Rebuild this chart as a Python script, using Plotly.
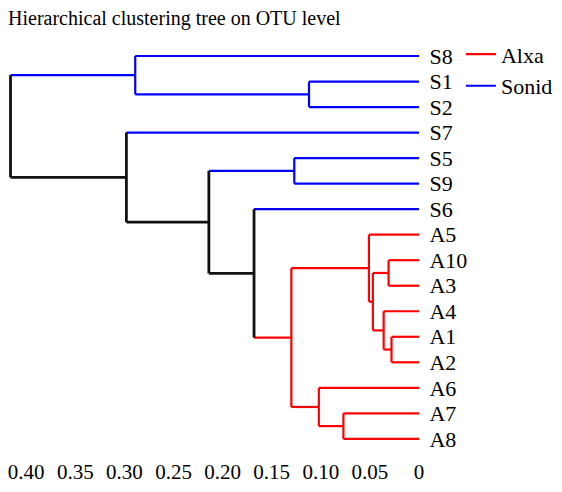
import plotly.graph_objects as go

# Leaves in display order (top to bottom) and their group
leaves = ["S8", "S1", "S2", "S7", "S5", "S9", "S6",
          "A5", "A10", "A3", "A4", "A1", "A2", "A6", "A7", "A8"]
leaf_group = ["Sonid"] * 7 + ["Alxa"] * 9

# Linkage: node ids 0..15 are leaves, 16.. are merges in this order
merge_left = [11, 8, 10, 17, 7, 14, 13, 1, 4, 20, 6, 24, 0, 3, 28]
merge_right = [12, 9, 16, 18, 19, 15, 21, 2, 5, 22, 25, 26, 23, 27, 29]
merge_height = [0.028, 0.031, 0.036, 0.047, 0.051, 0.077, 0.102, 0.112,
                0.127, 0.130, 0.168, 0.214, 0.289, 0.298, 0.416]

tick_vals = [0.40, 0.35, 0.30, 0.25, 0.20, 0.15, 0.10, 0.05, 0.0]
tick_text = ["0.40", "0.35", "0.30", "0.25", "0.20", "0.15", "0.10", "0.05", "0"]

group_colors = {"Alxa": "#ff0000", "Sonid": "#0000ff", None: "#111111"}
FONT = "'Liberation Serif', 'Times New Roman', Times, 'DejaVu Serif', serif"

n = len(leaves)
node_y = {i: float(i) for i in range(n)}
node_h = {i: 0.0 for i in range(n)}
node_grp = {i: leaf_group[i] for i in range(n)}

segs = {"Alxa": ([], []), "Sonid": ([], []), None: ([], [])}


def add_seg(grp, x0, y0, x1, y1):
    xs, ys = segs[grp]
    xs += [x0, x1, None]
    ys += [y0, y1, None]


for k, (a, b, h) in enumerate(zip(merge_left, merge_right, merge_height)):
    nid = n + k
    ga, gb = node_grp[a], node_grp[b]
    g = ga if ga == gb else None
    # horizontal branches from each child up to this merge
    add_seg(ga, node_h[a], node_y[a], h, node_y[a])
    add_seg(gb, node_h[b], node_y[b], h, node_y[b])
    # vertical connector
    add_seg(g, h, node_y[a], h, node_y[b])
    node_y[nid] = (node_y[a] + node_y[b]) / 2
    node_h[nid] = h
    node_grp[nid] = g

fig = go.Figure()
for grp in ["Alxa", "Sonid"]:
    xs, ys = segs[grp]
    fig.add_trace(go.Scatter(x=xs, y=ys, mode="lines", name=grp,
                             line=dict(color=group_colors[grp], width=2.2),
                             hoverinfo="skip"))
xs, ys = segs[None]
fig.add_trace(go.Scatter(x=xs, y=ys, mode="lines", showlegend=False,
                         line=dict(color=group_colors[None], width=2.8),
                         hoverinfo="skip"))

fig.update_layout(
    width=562, height=492,
    margin=dict(l=0, r=143, t=40, b=35),
    paper_bgcolor="white", plot_bgcolor="white",
    font=dict(family=FONT, color="#000000"),
    title=dict(text="Hierarchical clustering tree on OTU level",
               x=8 / 562, xanchor="left", y=1 - 18 / 492, yanchor="middle",
               font=dict(family=FONT, size=20, color="#000000")),
    legend=dict(x=1.1, xanchor="left", y=1.016, yanchor="top",
                font=dict(family=FONT, size=22, color="#000000"),
                itemwidth=30, bgcolor="rgba(0,0,0,0)"),
    xaxis=dict(range=[0.4267, 0], showgrid=False, zeroline=False,
               showline=False, ticks="", tickvals=tick_vals,
               ticktext=tick_text, tickfont=dict(family=FONT, size=21)),
    yaxis=dict(range=[15.71, -0.627], side="right", showgrid=False,
               zeroline=False, showline=False, ticks="outside", ticklen=5,
               tickcolor="rgba(0,0,0,0)",
               tickvals=list(range(n)), ticktext=leaves,
               tickfont=dict(family=FONT, size=22)),
)

fig.write_html("out.html")
